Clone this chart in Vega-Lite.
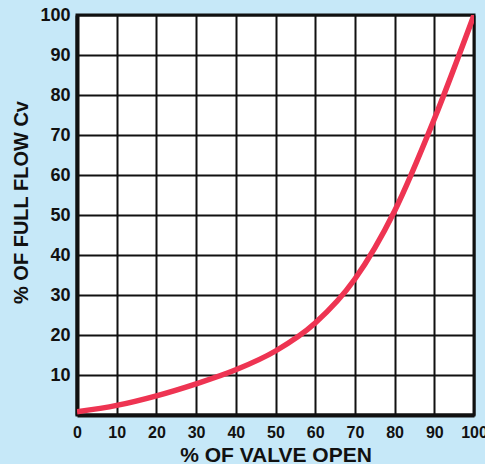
{
  "$schema": "https://vega.github.io/schema/vega-lite/v6.json",
  "autosize": "none",
  "width": 397,
  "height": 400,
  "padding": {"left": 77, "top": 15, "right": 11, "bottom": 49},
  "background": "#c6e8f8",
  "config": {
    "view": {"fill": "white", "stroke": "#111111", "strokeWidth": 3},
    "font": "Liberation Sans"
  },
  "data": {
    "values": [
      {"open": 0, "flow": 0.8},
      {"open": 10, "flow": 2.4},
      {"open": 20, "flow": 4.8},
      {"open": 30, "flow": 7.8},
      {"open": 40, "flow": 11.3},
      {"open": 50, "flow": 16},
      {"open": 60, "flow": 23},
      {"open": 70, "flow": 34},
      {"open": 80, "flow": 51},
      {"open": 90, "flow": 74},
      {"open": 100, "flow": 100}
    ]
  },
  "mark": {"type": "line", "color": "#ee3452", "strokeWidth": 5.5, "interpolate": "monotone", "clip": true},
  "encoding": {
    "x": {
      "field": "open", "type": "quantitative",
      "scale": {"domain": [0, 100], "nice": false},
      "axis": {
        "values": [0, 10, 20, 30, 40, 50, 60, 70, 80, 90, 100],
        "title": "% OF VALVE OPEN",
        "titleFont": "Liberation Sans", "titleFontSize": 21, "titleFontWeight": 900, "titleColor": "#111111",
        "titleY": 46, "titleBaseline": "alphabetic",
        "labelFont": "Liberation Sans", "labelFontSize": 16, "labelFontWeight": 900, "labelColor": "#111111",
        "labelPadding": 9, "labelFlush": false,
        "ticks": false,
        "domainColor": "#111111", "domainWidth": 4,
        "grid": true, "gridColor": "#111111", "gridWidth": 2, "gridOpacity": 1
      }
    },
    "y": {
      "field": "flow", "type": "quantitative",
      "scale": {"domain": [0, 100], "nice": false},
      "axis": {
        "values": [10, 20, 30, 40, 50, 60, 70, 80, 90, 100],
        "title": "% OF FULL FLOW Cv",
        "titleFont": "Liberation Sans", "titleFontSize": 20, "titleFontWeight": 900, "titleColor": "#111111",
        "titleX": -56, "titleY": 187, "titleAngle": 270, "titleAlign": "center", "titleBaseline": "middle",
        "labelFont": "Liberation Sans", "labelFontSize": 18, "labelFontWeight": 900, "labelColor": "#111111",
        "labelPadding": 7, "labelFlush": false,
        "ticks": false,
        "domainColor": "#111111", "domainWidth": 4,
        "grid": true, "gridColor": "#111111", "gridWidth": 2, "gridOpacity": 1
      }
    }
  }
}
